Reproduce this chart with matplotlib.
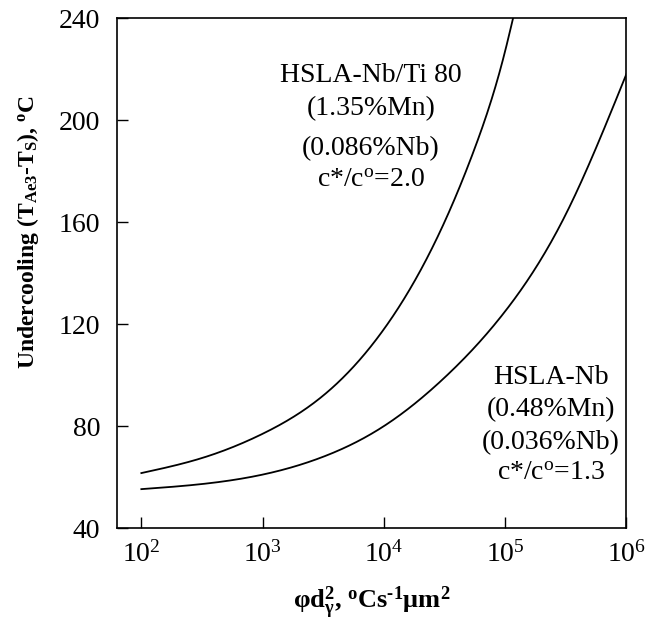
import numpy as np
import matplotlib
matplotlib.use("Agg")
import matplotlib.pyplot as plt
from matplotlib.ticker import LogFormatterMathtext, FixedLocator, NullLocator

plt.rcParams["font.family"] = ["Liberation Serif", "DejaVu Serif"]
plt.rcParams["mathtext.fontset"] = "custom"
plt.rcParams["mathtext.rm"] = "Liberation Serif"
plt.rcParams["mathtext.it"] = "Liberation Serif:italic"
plt.rcParams["mathtext.bf"] = "Liberation Serif:bold"

# curves (x = phi*d^2, y = undercooling)
nbti_x = [1e2, 10**2.5, 1e3, 10**3.5, 1e4, 10**4.5, 10**4.75, 1e5, 10**5.066]
nbti_y = [61.6, 67.5, 77.0, 92.0, 118.0, 160.0, 189.0, 227.0, 240.0]

nb_x = [1e2, 10**2.5, 1e3, 10**3.5, 1e4, 10**4.5, 1e5, 10**5.5, 1e6]
nb_y = [55.3, 57.3, 61.0, 68.0, 80.0, 99.0, 125.0, 163.0, 218.0]

x_ticks = [1e2, 1e3, 1e4, 1e5, 1e6]
y_ticks = [40, 80, 120, 160, 200, 240]

nbti_label = ["HSLA-Nb/Ti 80", "(1.35%Mn)", "(0.086%Nb)", r"c*/c$^\mathrm{o}$=2.0"]
nb_label = ["HSLA-Nb", "(0.48%Mn)", "(0.036%Nb)", r"c*/c$^\mathrm{o}$=1.3"]


def spline(xs, ys, n=400):
    # natural cubic spline in log10(x)
    x = np.log10(xs)
    y = np.asarray(ys, float)
    m = len(x)
    h = np.diff(x)
    A = np.zeros((m, m))
    b = np.zeros(m)
    A[0, 0] = A[-1, -1] = 1
    for i in range(1, m - 1):
        A[i, i - 1] = h[i - 1]
        A[i, i] = 2 * (h[i - 1] + h[i])
        A[i, i + 1] = h[i]
        b[i] = 6 * ((y[i + 1] - y[i]) / h[i] - (y[i] - y[i - 1]) / h[i - 1])
    M = np.linalg.solve(A, b)
    t = np.linspace(x[0], x[-1], n)
    idx = np.clip(np.searchsorted(x, t) - 1, 0, m - 2)
    x0, x1, hh = x[idx], x[idx + 1], h[idx]
    out = (M[idx] * (x1 - t) ** 3 / (6 * hh) + M[idx + 1] * (t - x0) ** 3 / (6 * hh)
           + (y[idx] / hh - M[idx] * hh / 6) * (x1 - t)
           + (y[idx + 1] / hh - M[idx + 1] * hh / 6) * (t - x0))
    return 10**t, out


fig = plt.figure(figsize=(6.47, 6.28), dpi=100)
ax = fig.add_axes([0.181, 0.159, 0.787, 0.812])

for xs, ys in [(nbti_x, nbti_y), (nb_x, nb_y)]:
    sx, sy = spline(xs, ys)
    ax.plot(sx, sy, color="black", lw=1.3)

ax.set_xscale("log")
ax.set_xlim(10**1.8, 1e6)
ax.set_ylim(40, 240)
ax.xaxis.set_major_locator(FixedLocator(x_ticks))
ax.xaxis.set_minor_locator(NullLocator())
ax.xaxis.set_major_formatter(LogFormatterMathtext())
ax.set_yticks(y_ticks)
ax.tick_params(direction="in", length=8, width=1, labelsize=20, top=False, right=False)
ax.tick_params(axis="x", pad=9)
ax.tick_params(axis="y", pad=12)
for sp in ax.spines.values():
    sp.set_linewidth(1.2)

for s, yv in zip(nbti_label, [217.6, 204.7, 189.0, 176.5]):
    ax.text(7800, yv, s, ha="center", va="center", fontsize=20)
for s, yv in zip(nb_label, [99.2, 86.3, 73.7, 61.6]):
    ax.text(2.4e5, yv, s, ha="center", va="center", fontsize=20)

ax.set_ylabel(r"Undercooling (T$_\mathbf{Ae3}$-T$_\mathbf{S}$), $^\mathbf{o}$C",
              fontsize=17, fontweight="bold")
ax.yaxis.set_label_coords(-0.15, 0.58)
ax.set_xlabel("φd$_\\mathbf{\\gamma}^\\mathbf{2}$, $^\\mathbf{o}$Cs$^\\mathbf{\u2010 1}$μm$^\\mathbf{2}$",
              fontsize=19, fontweight="bold", labelpad=12)

fig.savefig("out.png", dpi=100)
